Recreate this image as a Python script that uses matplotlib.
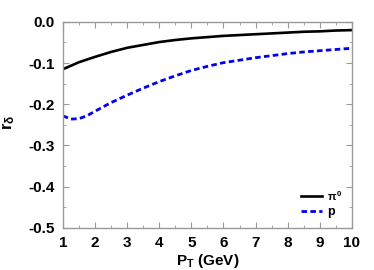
import matplotlib
matplotlib.use("Agg")
import matplotlib.pyplot as plt
from matplotlib.ticker import MultipleLocator

pt_pi = [1, 1.5, 2, 2.5, 3, 3.5, 4, 4.5, 5, 5.5, 6, 6.5, 7, 7.5, 8, 8.5, 9, 9.5, 10]
r_pi = [-0.115, -0.098, -0.085, -0.073, -0.063, -0.056, -0.049, -0.044, -0.040, -0.037,
        -0.034, -0.032, -0.030, -0.028, -0.026, -0.024, -0.023, -0.021, -0.020]
pt_p = [1, 1.25, 1.5, 1.75, 2, 2.5, 3, 3.5, 4, 4.5, 5, 5.5, 6, 6.5, 7, 7.5, 8, 8.5, 9, 9.5, 10]
r_p = [-0.228, -0.236, -0.235, -0.228, -0.217, -0.196, -0.178, -0.161, -0.145, -0.131,
       -0.118, -0.108, -0.099, -0.093, -0.087, -0.082, -0.077, -0.073, -0.070, -0.067, -0.064]
y_ticks = [-0.5, -0.4, -0.3, -0.2, -0.1, 0.0]
y_ticklabels = ['-0.5', '-0.4', '-0.3', '-0.2', '-0.1', '0.0']

plt.rcParams['font.family'] = ['Liberation Sans', 'DejaVu Sans']
plt.rcParams['font.weight'] = 'bold'
plt.rcParams['mathtext.fontset'] = 'custom'
plt.rcParams['mathtext.rm'] = 'Liberation Sans'
plt.rcParams['mathtext.it'] = 'Liberation Sans'
plt.rcParams['mathtext.bf'] = 'Liberation Sans:bold'

fig = plt.figure(figsize=(3.74, 2.70), dpi=100)
ax = fig.add_axes([0.168, 0.156, 0.773, 0.763])
ax.plot(pt_pi, r_pi, color='black', lw=1.9, label=r'$\pi^0$')
ax.plot(pt_p, r_p, color='#0000ee', lw=2, ls=(0, (2, 1.2)), label='p')
ax.set_xlim(1, 10)
ax.set_ylim(-0.5, 0.0)
ax.xaxis.set_major_locator(MultipleLocator(1))
ax.xaxis.set_minor_locator(MultipleLocator(0.5))
ax.set_yticks(y_ticks)
ax.set_yticklabels(y_ticklabels)
ax.yaxis.set_minor_locator(MultipleLocator(0.05))
for s in ax.spines.values():
    s.set_color('#999999')
    s.set_linewidth(1)
ax.tick_params(which='both', direction='in', top=True, right=True, color='#999999',
               labelsize=11)
ax.tick_params(which='major', length=4, pad=6)
ax.tick_params(which='minor', length=2)
ax.set_xlabel(r'P$_\mathbf{T}$ (GeV)', fontsize=11, fontweight='bold')
ax.xaxis.set_label_coords(0.5, -0.115)
ax.set_ylabel(r'r$_{\delta}$', fontsize=12, fontweight='bold')
ax.yaxis.set_label_coords(-0.16, 0.51)
leg = ax.legend(loc='lower right', frameon=False, fontsize=9, handlelength=1.7,
                borderaxespad=0.4, labelspacing=0.25, handletextpad=0.4)
leg.get_texts()[0].set_fontweight('normal')
leg.get_texts()[0].set_fontsize(8)
fig.savefig('out.png', dpi=100)
